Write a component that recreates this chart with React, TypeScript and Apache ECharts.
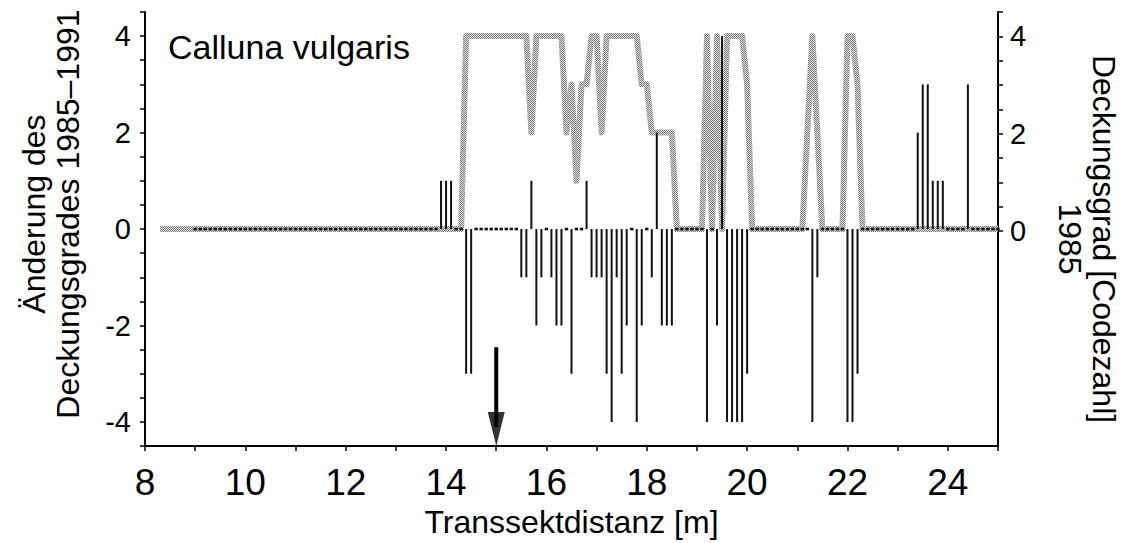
import React, { useEffect, useRef } from "react";
import * as echarts from "echarts";

const FONT = "'Liberation Sans', Arial, Helvetica, sans-serif";

const chartTitle = "Calluna vulgaris";
const xName = "Transsektdistanz [m]";
const leftName = "Änderung des\nDeckungsgrades 1985–1991";
const rightName = "Deckungsgrad [Codezahl]\n1985";

const xTickLabels = [8, 10, 12, 14, 16, 18, 20, 22, 24];
const leftTickLabels = [-4, -2, 0, 2, 4];
const rightTickLabels = [0, 2, 4];

// Deckungsgrad 1985 (Codezahl) – grey line vertices
const cover1985X = [
  8.3, 14.3, 14.4, 15.6, 15.7, 15.8, 16.3, 16.4, 16.5, 16.6, 16.7, 16.8, 16.9, 17.0,
  17.1, 17.2, 17.8, 17.9, 18.0, 18.1, 18.5, 18.6, 19.1, 19.2, 19.3, 19.4, 19.5, 19.6,
  19.9, 20.0, 20.1, 21.1, 21.2, 21.3, 21.4, 21.5, 21.9, 22.0, 22.1, 22.2, 22.3, 25.0,
];
const cover1985Y = [
  0, 0, 4, 4, 2, 4, 4, 2, 3, 1, 3, 3, 4, 4,
  2, 4, 4, 3, 3, 2, 2, 0, 0, 4, 0, 4, 0, 4,
  4, 3, 0, 0, 2, 4, 2, 0, 0, 4, 4, 3, 0, 0,
];

// Änderung des Deckungsgrades 1985–1991, one sample every 0.1 m from 9.0 m, one row per metre
const changeStartM = 9;
const changeStepM = 0.1;
const change09 = [0, 0, 0, 0, 0, 0, 0, 0, 0, 0];
const change10 = [0, 0, 0, 0, 0, 0, 0, 0, 0, 0];
const change11 = [0, 0, 0, 0, 0, 0, 0, 0, 0, 0];
const change12 = [0, 0, 0, 0, 0, 0, 0, 0, 0, 0];
const change13 = [0, 0, 0, 0, 0, 0, 0, 0, 0, 1];
const change14 = [1, 1, 0, 0, -3, -3, 0, 0, 0, 0];
const change15 = [0, 0, 0, 0, 0, -1, -1, 1, -2, -1];
const change16 = [0, -1, -2, -2, 0, -3, 0, 0, 1, -1];
const change17 = [-1, -1, -3, -4, -1, -3, -2, 0, -4, -2];
const change18 = [0, -1, 2, -2, -2, -2, 0, 0, 0, 0];
const change19 = [0, 0, -4, 0, -2, 4, -4, -4, -4, -4];
const change20 = [-3, 0, 0, 0, 0, 0, 0, 0, 0, 0];
const change21 = [0, 0, 0, -4, -1, 0, 0, 0, 0, 0];
const change22 = [-4, -4, -3, 0, 0, 0, 0, 0, 0, 0];
const change23 = [0, 0, 0, 0, 2, 3, 3, 1, 1, 1];
const change24 = [0, 0, 0, 0, 3, 0, 0, 0, 0, 0];
const change25 = [0];
const changeRows = [
  change09, change10, change11, change12, change13, change14, change15, change16,
  change17, change18, change19, change20, change21, change22, change23, change24, change25,
];

// arrow marking 15 m
const arrowX = 15;
const arrowTop = -2.45;
const arrowTip = -4.5;

function makeStipple(): any {
  const c = document.createElement("canvas");
  c.width = 2;
  c.height = 2;
  const g = c.getContext("2d");
  if (!g) return "#b0b0b0";
  g.fillStyle = "#e2e2e2";
  g.fillRect(0, 0, 2, 2);
  g.fillStyle = "#7a7a7a";
  g.fillRect(0, 0, 1, 1);
  g.fillRect(1, 1, 1, 1);
  return { image: c.toDataURL(), repeat: "repeat", imageWidth: 2, imageHeight: 2 };
}

export default function App() {
  const ref = useRef<HTMLDivElement>(null);

  useEffect(() => {
    if (!ref.current) return;
    const chart = echarts.init(ref.current, undefined, { renderer: "svg" });

    const changeData: number[][] = [];
    changeRows.forEach((row, r) =>
      row.forEach((v, c) => {
        changeData.push([Math.round((changeStartM + r + c * changeStepM) * 10) / 10, v]);
      })
    );
    const coverData = cover1985X.map((x, i) => [x, cover1985Y[i]]);

    const axisLineStyle = { color: "#000", width: 2 };

    chart.setOption({
      animation: false,
      backgroundColor: "#fff",
      textStyle: { fontFamily: FONT, color: "#000" },
      grid: [
        { left: 145, right: 132, top: 12, bottom: 93 },
        { left: 145, right: 132, top: 12, height: 219 },
      ],
      graphic: [
        {
          type: "text",
          x: 168,
          y: 47,
          style: {
            text: chartTitle,
            fontSize: 34,
            fontFamily: FONT,
            fill: "#000",
            verticalAlign: "middle",
          },
        },
      ],
      xAxis: [
        {
          gridIndex: 0,
          type: "value",
          min: 8,
          max: 25,
          interval: 1,
          name: xName,
          nameLocation: "middle",
          nameGap: 58,
          nameTextStyle: { fontSize: 32, fontFamily: FONT, color: "#000" },
          axisLine: { onZero: false, lineStyle: axisLineStyle },
          axisTick: { show: true, inside: false, length: 5, lineStyle: { color: "#000", width: 1.5 } },
          axisLabel: {
            fontSize: 37,
            fontFamily: FONT,
            color: "#000",
            margin: 18,
            formatter: (v: number) => (xTickLabels.includes(v) ? String(v) : ""),
          },
          splitLine: { show: false },
        },
        { gridIndex: 1, type: "value", min: 8, max: 25, show: false },
      ],
      yAxis: [
        {
          gridIndex: 0,
          type: "value",
          position: "left",
          min: -4.5,
          max: 4.5,
          interval: 0.5,
          name: leftName,
          nameLocation: "middle",
          nameRotate: 90,
          nameGap: 60,
          nameTextStyle: {
            fontSize: 32,
            lineHeight: 34,
            fontFamily: FONT,
            color: "#000",
            align: "center",
            padding: [0, 0, 0, 30],
          },
          axisLine: { show: true, onZero: false, lineStyle: axisLineStyle },
          axisTick: { show: true, length: 5, lineStyle: { color: "#000", width: 1.5 } },
          axisLabel: {
            fontSize: 29,
            fontFamily: FONT,
            color: "#000",
            margin: 14,
            formatter: (v: number) => (leftTickLabels.includes(v) ? String(v) : ""),
          },
          splitLine: { show: false },
        },
        {
          gridIndex: 0,
          type: "value",
          position: "right",
          min: -4.5,
          max: 4.5,
          interval: 0.5,
          name: rightName,
          nameLocation: "middle",
          nameRotate: -90,
          nameGap: 55,
          nameTextStyle: {
            fontSize: 32,
            lineHeight: 34,
            fontFamily: FONT,
            color: "#000",
            align: "center",
            padding: [0, 0, 0, 20],
          },
          axisLine: { show: true, onZero: false, lineStyle: axisLineStyle },
          axisTick: { show: false },
          axisLabel: { show: false },
          splitLine: { show: false },
        },
        {
          gridIndex: 1,
          type: "value",
          position: "right",
          min: 0,
          max: 4.5,
          interval: 0.5,
          axisLine: { show: true, onZero: false, lineStyle: axisLineStyle },
          axisTick: { show: true, length: 5, lineStyle: { color: "#000", width: 1.5 } },
          axisLabel: {
            fontSize: 29,
            fontFamily: FONT,
            color: "#000",
            margin: 12,
            formatter: (v: number) => (rightTickLabels.includes(v) ? String(v) : ""),
          },
          splitLine: { show: false },
        },
      ],
      series: [
        {
          name: "Deckungsgrad 1985",
          type: "line",
          xAxisIndex: 0,
          yAxisIndex: 1,
          data: coverData,
          symbol: "none",
          z: 2,
          lineStyle: { color: makeStipple(), width: 6, join: "round" },
        },
        {
          name: "Änderung 1985–1991",
          type: "custom",
          xAxisIndex: 0,
          yAxisIndex: 0,
          z: 3,
          data: changeData,
          encode: { x: 0, y: 1 },
          renderItem: (params: any, api: any) => {
            const x = api.value(0);
            const v = api.value(1);
            const p0 = api.coord([x, 0]);
            if (v === 0) {
              return {
                type: "rect",
                shape: { x: p0[0] - 1.7, y: p0[1] - 1.3, width: 3.4, height: 2.6 },
                style: { fill: "#111" },
              };
            }
            const p1 = api.coord([x, v]);
            return {
              type: "line",
              shape: { x1: p0[0], y1: p0[1], x2: p1[0], y2: p1[1] },
              style: { stroke: "#111", lineWidth: 2 },
            };
          },
        },
        {
          name: "Pfeil",
          type: "line",
          xAxisIndex: 0,
          yAxisIndex: 0,
          data: [
            [arrowX, arrowTop],
            [arrowX, arrowTip + 0.4],
          ],
          symbol: "none",
          z: 4,
          lineStyle: { color: "#000", width: 4 },
        },
        {
          name: "Pfeilspitze",
          type: "scatter",
          xAxisIndex: 0,
          yAxisIndex: 0,
          clip: false,
          data: [[arrowX, arrowTip]],
          symbol: "triangle",
          symbolSize: [17, 34],
          symbolOffset: [0, "-50%"],
          symbolRotate: 180,
          z: 5,
          itemStyle: { color: "#000" },
        },
      ],
    });

    return () => chart.dispose();
  }, []);

  return (
    <div
      ref={ref}
      style={{ position: "fixed", left: 0, top: 0, width: 1130, height: 543, background: "#fff" }}
    />
  );
}
